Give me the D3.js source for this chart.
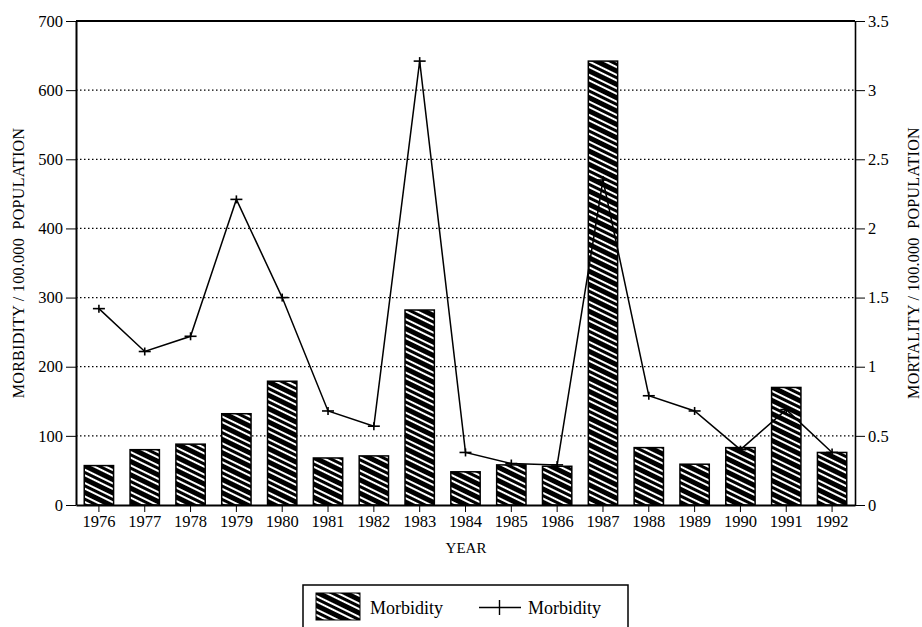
<!DOCTYPE html>
<html>
<head>
<meta charset="utf-8">
<script src="https://cdn.jsdelivr.net/npm/d3@7"></script>
<style>
  html, body { margin: 0; padding: 0; background: #fff; }
  svg { display: block; }
  text { font-family: "Liberation Serif", "Times New Roman", serif; fill: #000; }
</style>
</head>
<body>
<svg id="chart" width="922" height="627"></svg>
<script>
// Yearly morbidity (bars, left axis) and mortality (line, right axis)
const years = ["1976","1977","1978","1979","1980","1981","1982","1983","1984",
               "1985","1986","1987","1988","1989","1990","1991","1992"];
const morbidity = [57, 80, 88, 132, 179, 68, 71, 282, 48, 58, 56, 642, 83, 59, 83, 170, 76];
const mortality = [1.42, 1.11, 1.22, 2.21, 1.5, 0.68, 0.57, 3.21, 0.38, 0.3, 0.29, 2.35, 0.79, 0.68, 0.4, 0.69, 0.38];
const leftTicks = [0, 100, 200, 300, 400, 500, 600, 700];
const rightTicks = [0, 0.5, 1, 1.5, 2, 2.5, 3, 3.5];
const legendLabels = ["Morbidity", "Morbidity"];

const svg = d3.select("#chart");
const m = { left: 76, right: 855, top: 21, bottom: 505 };

const x = d3.scaleBand().domain(years).range([m.left, m.right])
  .paddingInner(0.36).paddingOuter(0.18);
const yL = d3.scaleLinear().domain([0, 700]).range([m.bottom, m.top]);
const yR = d3.scaleLinear().domain([0, 3.5]).range([m.bottom, m.top]);

// diagonal hatch fill for the bars
const defs = svg.append("defs");
const pat = defs.append("pattern")
  .attr("id", "hatch").attr("patternUnits", "userSpaceOnUse")
  .attr("width", 12).attr("height", 12)
  .attr("patternTransform", "rotate(26)");
pat.append("rect").attr("width", 12).attr("height", 12).attr("fill", "#000");
pat.append("rect").attr("y", 0).attr("width", 12).attr("height", 2).attr("fill", "#fff");
pat.append("rect").attr("y", 5).attr("width", 12).attr("height", 2).attr("fill", "#fff");

// dotted grid lines
svg.append("g").selectAll("line")
  .data(leftTicks.filter(d => d > 0 && d < 700))
  .join("line")
  .attr("x1", m.left).attr("x2", m.right)
  .attr("y1", d => yL(d)).attr("y2", d => yL(d))
  .attr("stroke", "#000").attr("stroke-width", 1.2)
  .attr("stroke-dasharray", "1.5,2.5");

// bars
svg.append("g").selectAll("rect")
  .data(years.map((y, i) => ({ y, v: morbidity[i] })))
  .join("rect")
  .attr("x", d => x(d.y)).attr("width", x.bandwidth())
  .attr("y", d => yL(d.v)).attr("height", d => yL(0) - yL(d.v))
  .attr("fill", "url(#hatch)").attr("stroke", "#000").attr("stroke-width", 1.5);

// mortality line with + markers
const cx = d => x(d.y) + x.bandwidth() / 2;
const pts = years.map((y, i) => ({ y, v: mortality[i] }));
svg.append("path").datum(pts)
  .attr("fill", "none").attr("stroke", "#000").attr("stroke-width", 1.5)
  .attr("d", d3.line().x(cx).y(d => yR(d.v)));
const mk = svg.append("g").selectAll("g").data(pts).join("g")
  .attr("transform", d => `translate(${cx(d)},${yR(d.v)})`);
mk.append("line").attr("x1", -6).attr("x2", 6).attr("stroke", "#000").attr("stroke-width", 1.6);
mk.append("line").attr("y1", -4).attr("y2", 4).attr("stroke", "#000").attr("stroke-width", 1.6);

// frame: top line
svg.append("line").attr("x1", m.left).attr("x2", m.right)
  .attr("y1", m.top).attr("y2", m.top).attr("stroke", "#000").attr("stroke-width", 2);

// axes
const axisStyle = g => {
  g.attr("font-family", null).attr("font-size", null);
  g.selectAll("text").style("font-family", "'Liberation Serif', serif").style("font-size", "16.5px").attr("fill", "#000");
  g.selectAll("line, path").attr("stroke", "#000");
};
svg.append("g").attr("transform", `translate(${m.left},0)`)
  .call(d3.axisLeft(yL).tickValues(leftTicks).tickSize(10).tickPadding(3).tickSizeOuter(0))
  .call(axisStyle)
  .call(g => g.select(".domain").attr("stroke-width", 2));
svg.append("g").attr("transform", `translate(${m.right},0)`)
  .call(d3.axisRight(yR).tickValues(rightTicks).tickSize(10).tickPadding(3).tickSizeOuter(0)
    .tickFormat(d => String(d)))
  .call(axisStyle)
  .call(g => g.select(".domain").attr("stroke-width", 1.6));
svg.append("g").attr("transform", `translate(0,${m.bottom})`)
  .call(d3.axisBottom(x).tickSize(7).tickPadding(3).tickSizeOuter(0))
  .call(axisStyle)
  .call(g => g.select(".domain").attr("stroke-width", 2));

// axis titles
svg.append("text").attr("x", 466).attr("y", 553).attr("text-anchor", "middle")
  .style("font-size", "15px").text("YEAR");
svg.append("text").attr("transform", `translate(23.5,${(m.top + m.bottom) / 2}) rotate(-90)`)
  .attr("text-anchor", "middle").style("font-size", "16px").style("letter-spacing", "0.3px")
  .attr("xml:space", "preserve")
  .text("MORBIDITY / 100.000  POPULATION");
svg.append("text").attr("transform", `translate(919,${(m.top + m.bottom) / 2}) rotate(-90)`)
  .attr("text-anchor", "middle").style("font-size", "16px").style("letter-spacing", "0.3px")
  .attr("xml:space", "preserve")
  .text("MORTALITY / 100.000  POPULATION");

// legend
const lg = svg.append("g");
lg.append("rect").attr("x", 303).attr("y", 585).attr("width", 325).attr("height", 60)
  .attr("fill", "#fff").attr("stroke", "#000").attr("stroke-width", 1.5);
lg.append("rect").attr("x", 316).attr("y", 593).attr("width", 44).attr("height", 27)
  .attr("fill", "url(#hatch)").attr("stroke", "#000").attr("stroke-width", 1);
lg.append("text").attr("x", 370).attr("y", 614).style("font-size", "18px").text(legendLabels[0]);
lg.append("line").attr("x1", 479).attr("x2", 521).attr("y1", 607.5).attr("y2", 607.5)
  .attr("stroke", "#000").attr("stroke-width", 1.4);
lg.append("line").attr("x1", 499.5).attr("x2", 499.5).attr("y1", 600).attr("y2", 615)
  .attr("stroke", "#000").attr("stroke-width", 1.4);
lg.append("text").attr("x", 528).attr("y", 614).style("font-size", "18px").text(legendLabels[1]);
</script>
</body>
</html>
